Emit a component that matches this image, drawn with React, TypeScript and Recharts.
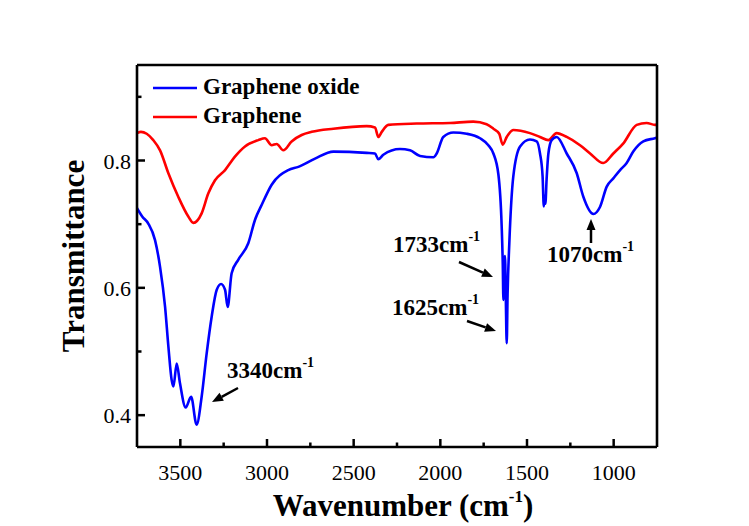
import { LineChart, Line, XAxis, YAxis, Customized } from 'recharts';

// wavenumber (cm-1) / transmittance
const oxideWn = [3750, 3720, 3685, 3646, 3617, 3588, 3569, 3550, 3540, 3521, 3502, 3469, 3438, 3406, 3377, 3348, 3319, 3290, 3265, 3242, 3227, 3204, 3166, 3108, 3069, 3031, 2973, 2877, 2819, 2723, 2617, 2425, 2377, 2358, 2329, 2233, 2175, 2117, 2040, 2021, 1983, 1925, 1848, 1771, 1723, 1694, 1665, 1646, 1640, 1636, 1632, 1627, 1622, 1617, 1612, 1602, 1579, 1540, 1483, 1444, 1425, 1410, 1403, 1398, 1394, 1387, 1377, 1358, 1329, 1271, 1213, 1175, 1117, 1079, 1040, 1002, 963, 925, 887, 829, 762, 750];
const oxideT = [0.725, 0.712, 0.701, 0.675, 0.633, 0.57, 0.508, 0.455, 0.445, 0.481, 0.45, 0.412, 0.429, 0.385, 0.429, 0.497, 0.555, 0.597, 0.606, 0.597, 0.57, 0.623, 0.644, 0.67, 0.707, 0.73, 0.762, 0.785, 0.79, 0.803, 0.814, 0.812, 0.811, 0.802, 0.809, 0.818, 0.816, 0.807, 0.805, 0.811, 0.837, 0.844, 0.842, 0.835, 0.824, 0.811, 0.778, 0.696, 0.64, 0.581, 0.64, 0.65, 0.58, 0.513, 0.59, 0.67, 0.775, 0.822, 0.833, 0.83, 0.811, 0.775, 0.728, 0.745, 0.732, 0.77, 0.81, 0.832, 0.837, 0.811, 0.78, 0.743, 0.716, 0.727, 0.759, 0.772, 0.785, 0.796, 0.814, 0.83, 0.835, 0.836];

const grapheneWn = [3750, 3727, 3694, 3656, 3617, 3569, 3512, 3454, 3425, 3377, 3339, 3300, 3242, 3185, 3127, 3050, 3012, 2973, 2944, 2906, 2858, 2800, 2742, 2617, 2425, 2377, 2358, 2338, 2300, 2136, 1944, 1810, 1733, 1694, 1660, 1640, 1617, 1579, 1483, 1425, 1377, 1329, 1271, 1194, 1136, 1060, 1002, 944, 867, 810, 762, 750];
const grapheneT = [0.843, 0.845, 0.842, 0.832, 0.816, 0.78, 0.743, 0.712, 0.702, 0.717, 0.748, 0.769, 0.785, 0.806, 0.822, 0.832, 0.835, 0.824, 0.826, 0.816, 0.83, 0.84, 0.845, 0.85, 0.854, 0.852, 0.837, 0.845, 0.856, 0.858, 0.859, 0.861, 0.857, 0.85, 0.842, 0.825, 0.837, 0.848, 0.843, 0.837, 0.832, 0.843, 0.837, 0.824, 0.811, 0.796, 0.811, 0.827, 0.856, 0.859, 0.856, 0.857];

const xMajor = [3500, 3000, 2500, 2000, 1500, 1000];
const xMinor = [3250, 2750, 2250, 1750, 1250];
const yMajor = [0.4, 0.6, 0.8];
const yMinor = [0.5, 0.7, 0.9];

const oxideData = oxideWn.map((wn, i) => ({ wn, t: oxideT[i] }));
const grapheneData = grapheneWn.map((wn, i) => ({ wn, t: grapheneT[i] }));

const FONT = '"Liberation Serif", "Times New Roman", serif';

const XTick = (props: any) => {
  const { x, y, payload } = props;
  const major = xMajor.includes(payload.value);
  return (
    <g>
      <line x1={x} x2={x} y1={y} y2={y - (major ? 8 : 4.5)} stroke="#000" strokeWidth={2.5} />
      {major && (
        <text x={x} y={y + 33} textAnchor="middle" fontSize={22} fontFamily={FONT} fill="#000">
          {payload.value}
        </text>
      )}
    </g>
  );
};

const YTick = (props: any) => {
  const { x, y, payload } = props;
  const major = yMajor.some((v) => Math.abs(v - payload.value) < 1e-6);
  return (
    <g>
      <line x1={x} x2={x + (major ? 8 : 4.5)} y1={y} y2={y} stroke="#000" strokeWidth={2.5} />
      {major && (
        <text x={x - 6} y={y + 8} textAnchor="end" fontSize={22} fontFamily={FONT} fill="#000">
          {payload.value.toFixed(1)}
        </text>
      )}
    </g>
  );
};

const Arrow = ({ x1, y1, x2, y2 }: { x1: number; y1: number; x2: number; y2: number }) => {
  const a = Math.atan2(y2 - y1, x2 - x1);
  const len = 11;
  const w = 4.5;
  const bx = x2 - len * Math.cos(a);
  const by = y2 - len * Math.sin(a);
  const pts = [
    [x2, y2],
    [bx + w * Math.sin(a), by - w * Math.cos(a)],
    [bx - w * Math.sin(a), by + w * Math.cos(a)],
  ]
    .map((p) => p.join(','))
    .join(' ');
  return (
    <g>
      <line x1={x1} y1={y1} x2={bx} y2={by} stroke="#000" strokeWidth={2.5} />
      <polygon points={pts} fill="#000" />
    </g>
  );
};

const PeakLabel = ({ x, y, text }: { x: number; y: number; text: string }) => (
  <text x={x} y={y} fontSize={23} fontWeight="bold" fontFamily={FONT} fill="#000">
    {text}cm
    <tspan fontSize={14} dy={-11}>-1</tspan>
  </text>
);

const Overlay = () => (
  <g>
    {/* legend */}
    <line x1={153} x2={197} y1={88} y2={88} stroke="#0000ff" strokeWidth={2.6} />
    <text x={203} y={94} fontSize={23} fontWeight="bold" fontFamily={FONT} fill="#000">Graphene oxide</text>
    <line x1={153} x2={197} y1={117} y2={117} stroke="#ff0000" strokeWidth={2.6} />
    <text x={203} y={123} fontSize={23} fontWeight="bold" fontFamily={FONT} fill="#000">Graphene</text>

    {/* peak annotations */}
    <PeakLabel x={227} y={378} text="3340" />
    <Arrow x1={238} y1={388} x2={212} y2={402} />
    <PeakLabel x={393} y={252} text="1733" />
    <Arrow x1={459} y1={262} x2={493} y2={277} />
    <PeakLabel x={392} y={315} text="1625" />
    <Arrow x1={467} y1={321} x2={496} y2={331} />
    <PeakLabel x={547} y={262} text="1070" />
    <Arrow x1={591} y1={243} x2={591} y2={219} />

    {/* axis titles */}
    <text x={403} y={516} textAnchor="middle" fontSize={31} fontWeight="bold" fontFamily={FONT} fill="#000">
      Wavenumber (cm<tspan fontSize={17} dy={-14}>-1</tspan><tspan dy={14}>)</tspan>
    </text>
    <text
      x={84}
      y={256}
      transform="rotate(-90 84 256)"
      textAnchor="middle"
      fontSize={31}
      fontWeight="bold"
      fontFamily={FONT}
      fill="#000"
    >
      Transmittance
    </text>
  </g>
);

export default function App() {
  return (
    <div style={{ position: 'absolute', left: 0, top: 0, background: '#fff' }}>
      <LineChart width={749} height={526} margin={{ top: 64, right: 91, bottom: 78, left: 0 }}>
        <XAxis
          dataKey="wn"
          type="number"
          domain={[750, 3750]}
          reversed
          allowDataOverflow
          ticks={[...xMajor, ...xMinor].sort((a, b) => b - a)}
          interval={0}
          tickSize={0}
          tickMargin={0}
          tickLine={false}
          tick={<XTick />}
          height={1}
          axisLine={{ stroke: '#000', strokeWidth: 2.6 }}
        />
        <XAxis
          xAxisId="top"
          orientation="top"
          type="number"
          domain={[750, 3750]}
          reversed
          tick={false}
          tickLine={false}
          height={1}
          axisLine={{ stroke: '#000', strokeWidth: 2.6 }}
        />
        <YAxis
          type="number"
          domain={[0.35, 0.95]}
          allowDataOverflow
          ticks={[...yMajor, ...yMinor].sort((a, b) => a - b)}
          interval={0}
          tickSize={0}
          tickMargin={0}
          tickLine={false}
          tick={<YTick />}
          width={137}
          axisLine={{ stroke: '#000', strokeWidth: 2.6 }}
        />
        <YAxis
          yAxisId="right"
          orientation="right"
          type="number"
          domain={[0.35, 0.95]}
          tick={false}
          tickLine={false}
          width={1}
          axisLine={{ stroke: '#000', strokeWidth: 2.6 }}
        />
        <Line
          data={grapheneData}
          dataKey="t"
          type="monotone"
          stroke="#ff0000"
          strokeWidth={2.6}
          dot={false}
          isAnimationActive={false}
        />
        <Line
          data={oxideData}
          dataKey="t"
          type="monotone"
          stroke="#0000ff"
          strokeWidth={2.6}
          dot={false}
          isAnimationActive={false}
        />
        <Customized component={<Overlay />} />
      </LineChart>
    </div>
  );
}
